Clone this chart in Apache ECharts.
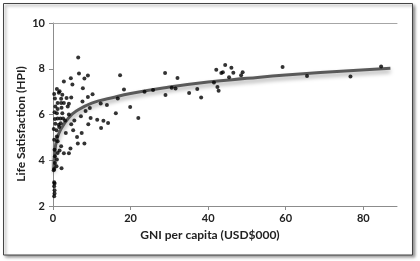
<!DOCTYPE html>
<html>
<head>
<meta charset="utf-8">
<script src="https://cdn.jsdelivr.net/npm/echarts@6/dist/echarts.min.js"></script>
<style>
  html, body { margin: 0; padding: 0; background: #fff; }
  #chart { width: 420px; height: 261px; }
</style>
</head>
<body>
<div id="chart"></div>
<script>
// GNI per capita (USD$000) for each country
var gni = [
    42.1, 44.4, 46.0, 43.8, 43.4, 46.5, 48.9, 48.5, 45.4, 41.5, 42.4, 42.7, 59.2, 65.5, 76.7, 84.6,
    17.3, 28.9, 32.1, 10.2, 18.3, 23.6, 25.8, 30.6, 31.6, 29.0, 35.1, 37.2, 38.2, 16.7, 12.3, 13.9,
    19.9, 9.5, 16.2, 22.0, 9.7, 11.4, 13.0, 14.2, 12.4,
    6.5, 6.7, 9.0, 8.1, 4.6, 2.8, 5.0, 7.7, 1.0, 1.7, 2.4, 3.5, 4.7, 2.1, 9.0, 7.6, 1.2, 2.1, 2.8, 4.1,
    1.2, 2.2, 3.8, 1.0, 2.4, 4.1, 8.4, 7.2, 1.2, 1.9, 2.6, 3.1, 4.7, 5.5, 9.1, 5.2, 7.4, 0.2, 0.9, 3.3,
    6.2, 6.4, 8.1, 1.0, 0.3, 1.2, 2.1, 0.4, 2.8, 4.1,
    1.2, 1.7, 0.5, 1.0, 0.5, 0.9, 2.2, 0.2, 0.3, 0.3, 0.4, 0.3, 0.4, 0.4, 0.3,
    4.5, 0.6, 1.5, 2.0, 0.5, 1.6, 0.5, 0.3, 0.6, 0.4, 1.5
];
// Life Satisfaction (HPI), same order
var satisfaction = [
    7.96, 8.16, 8.04, 7.85, 7.81, 7.82, 7.85, 7.72, 7.63, 7.40, 7.20, 7.04, 8.08, 7.68, 7.66, 8.10,
    7.72, 7.81, 7.60, 6.89, 7.09, 6.99, 7.07, 7.17, 7.14, 6.85, 6.94, 7.12, 6.74, 6.70, 6.48, 6.41,
    6.33, 6.28, 6.06, 5.85, 5.85, 5.77, 5.73, 5.63, 5.41,
    8.49, 7.79, 7.70, 7.57, 7.59, 7.44, 7.31, 7.15, 7.11, 7.02, 6.86, 6.72, 6.74, 6.69, 6.76, 6.57, 6.50, 6.50, 6.50, 6.47,
    6.24, 6.29, 6.35, 6.06, 6.06, 6.00, 6.15, 5.92, 5.83, 5.83, 5.83, 5.74, 5.57, 5.74, 5.57, 5.31, 5.19, 5.37, 5.31, 5.19,
    5.02, 4.73, 4.73, 5.04, 4.90, 4.83, 4.61, 4.46, 4.31, 4.31,
    4.32, 4.43, 4.17, 4.03, 3.88, 3.74, 3.65, 3.56, 3.62, 3.04, 2.98, 2.86, 2.69, 2.55, 2.43,
    4.51, 5.60, 5.55, 5.62, 5.80, 5.45, 6.70, 6.90, 6.35, 6.10, 6.95
];
// logarithmic trend line
var trendX = [0.2, 0.5, 1, 2, 4, 6, 10, 15, 20, 30, 40, 50, 60, 70, 87];
var trendY = [3.6, 4.45, 4.9, 5.35, 5.85, 6.15, 6.5, 6.72, 6.92, 7.2, 7.42, 7.58, 7.73, 7.85, 8.02];

var xTicks = [0, 20, 40, 60, 80];
var yTicks = [2, 4, 6, 8, 10];

var points = [];
for (var i = 0; i < gni.length; i++) {
    points.push([gni[i], satisfaction[i]]);
}
var trend = [];
for (var j = 0; j < trendX.length; j++) {
    trend.push([trendX[j], trendY[j]]);
}

var font = 'Lato, "Open Sans", sans-serif';
var chart = echarts.init(document.getElementById('chart'), null, { renderer: 'canvas' });

var option = {
    backgroundColor: '#fff',
    animation: false,
    grid: { left: 53, right: 23, top: 23, bottom: 55 },
    graphic: [
        {
            type: 'rect', z: -10, silent: true,
            shape: { x: 3.5, y: 3.5, width: 409, height: 251.5 },
            style: {
                fill: '#fff', stroke: '#444', lineWidth: 1,
                shadowColor: 'rgba(0,0,0,0.45)', shadowBlur: 3, shadowOffsetX: 2, shadowOffsetY: 2
            }
        },
        {
            type: 'text', left: 'center', top: 229,
            style: { text: 'GNI per capita (USD$000)', font: 'bold 12px ' + font, fill: '#222' }
        },
        {
            type: 'text', x: 21, y: 124, rotation: Math.PI / 2,
            style: {
                text: 'Life Satisfaction (HPI)', font: 'bold 12px ' + font, fill: '#222',
                align: 'center', verticalAlign: 'middle'
            }
        }
    ],
    xAxis: [
        {
            type: 'value', min: 0, max: 88.7,
            axisLine: { show: true, lineStyle: { color: '#8c8c8c', width: 1 } },
            axisTick: { show: true, length: 4, customValues: xTicks, lineStyle: { color: '#8c8c8c' } },
            axisLabel: { customValues: xTicks, margin: 7, fontFamily: font, fontWeight: 'bold', fontSize: 11, color: '#222' },
            splitLine: { show: false }
        },
        {
            type: 'value', min: 0, max: 88.7, position: 'top',
            axisLine: { show: true, lineStyle: { color: '#a6a6a6', width: 1 } },
            axisTick: { show: false }, axisLabel: { show: false }, splitLine: { show: false }
        }
    ],
    yAxis: {
        type: 'value', min: 2, max: 10, interval: 2,
        axisLine: { show: true, lineStyle: { color: '#8c8c8c', width: 1 } },
        axisTick: { show: true, length: 4, lineStyle: { color: '#8c8c8c' } },
        axisLabel: { margin: 8, fontFamily: font, fontWeight: 'bold', fontSize: 11, color: '#222' },
        splitLine: { show: false }
    },
    series: [
        {
            type: 'line', data: trend, smooth: true, showSymbol: false, z: 2,
            lineStyle: {
                color: '#5a5a5a', width: 3,
                shadowColor: 'rgba(0,0,0,0.35)', shadowBlur: 4, shadowOffsetY: 3
            }
        },
        {
            type: 'scatter', data: points, symbolSize: 4, z: 3,
            itemStyle: { color: '#000' }
        }
    ]
};
chart.setOption(option);
</script>
</body>
</html>
